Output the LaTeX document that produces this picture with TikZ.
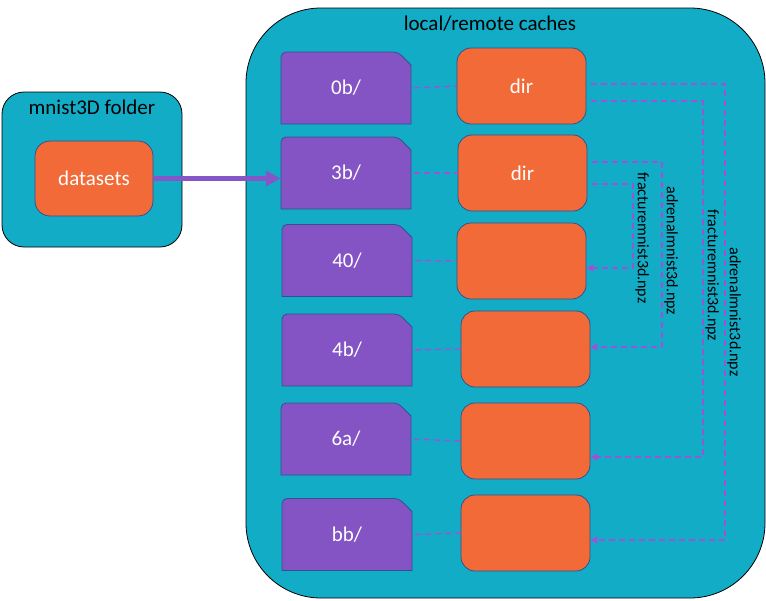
\documentclass[tikz,border=0pt]{standalone}
\usepackage{fontspec}
\setmainfont{Carlito}
\usepackage{xcolor}
\usetikzlibrary{calc, positioning, arrows.meta}
\definecolor{cachecyan}{RGB}{19,172,198}
\definecolor{dirorange}{RGB}{241,106,56}
\definecolor{foldpurple}{RGB}{132,84,196}
\definecolor{edgeblue}{RGB}{47,82,143}
\definecolor{linkpurple}{RGB}{160,82,214}
\newcommand\folder[4]{% name, centre x, centre y, label
  \coordinate (#1c) at (#2,#3); % centre of the folder
  \def\fldw{65}   % half width
  \def\fldh{36}   % half height
  \def\fldcut{13} % size of the cut corner
  \draw[foldshape] ($(#1c)+(-\fldw,\fldh)$) [rounded corners=5pt] -- ($(#1c)+(-\fldw,-\fldh)$) -- ($(#1c)+(\fldw-\fldcut,-\fldh)$) [sharp corners] -- ($(#1c)+(\fldw,-\fldh+\fldcut)$) -- ($(#1c)+(\fldw,\fldh)$) -- cycle;
  \node[foldlabel] (#1) at (#1c) {#4};
}

\begin{document}
\begin{tikzpicture}[x=1pt,y=-1pt,font=\fontsize{21}{25}\selectfont,
    cache/.style={draw=black,line width=0.8pt,fill=cachecyan},
    dirbox/.style={draw=edgeblue,line width=0.8pt,fill=dirorange,rounded corners=14pt,text=white,minimum width=129pt,minimum height=76pt},
    foldshape/.style={draw=edgeblue,line width=0.8pt,fill=foldpurple},
    foldlabel/.style={text=white,minimum width=130pt,minimum height=72pt,inner sep=0pt},
    link/.style={linkpurple,line width=1.4pt,dash pattern=on 6pt off 4pt,shorten <=3pt},
    npz/.style={link,shorten <=5pt,-{Triangle[length=7pt,width=7pt]}},
    npzlabel/.style={text=black,font=\fontsize{16}{19}\selectfont,rotate=-90,anchor=south,inner sep=1.5pt},
    feed/.style={draw={rgb,255:red,133;green,86;blue,200},line width=4.5pt,-{Triangle[length=15pt,width=15pt]}}]
  \useasboundingbox (0,0) rectangle (766,600);
  % containers
  \node[cache,rounded corners=75pt,minimum width=519pt,minimum height=590pt] (caches) at (505.5,303) {};
  \node[anchor=base] (cachetitle) at (490,30) {local/remote caches};
  \node[cache,rounded corners=22pt,minimum width=180pt,minimum height=155pt] (mnist) at (92,169.5) {};
  \node[anchor=base] (mnisttitle) at (92,114) {mnist3D folder};
  \node[dirbox,minimum width=118pt,minimum height=75pt,rounded corners=15pt] (datasets) at (94,178.5) {datasets};
  % one row per cache folder
  \foreach \nm/\fx/\fy/\bx/\by/\txt in {0b/346/88/521.5/86/dir, 3b/346/173/522.5/173/dir, 40/347/260.5/521.5/261/, 4b/347/350/525.5/349/, 6a/346/439/525.5/441/, bb/347/534.5/525.5/533/}{
    \folder{f\nm}{\fx}{\fy}{\nm/}
    \node[dirbox] (d\nm) at (\bx,\by) {\txt};
    \draw[link] (f\nm.east) -- (d\nm.west);
  }
  \draw[feed] (datasets.east) -- (datasets.east -| f3b.west);
  % npz links
  \coordinate (colA) at (725,0);
  \coordinate (colB) at (703,0);
  \coordinate (colC) at (662,0);
  \coordinate (colD) at (633,0);
  \coordinate (aOut) at ([yshift=2pt]d0b.east);
  \coordinate (aIn) at ([yshift=-7pt]dbb.east);
  \coordinate (bOut) at ([yshift=-15pt]d0b.east);
  \coordinate (bIn) at ([yshift=-16pt]d6a.east);
  \coordinate (cOut) at ([yshift=11pt]d3b.east);
  \coordinate (cIn) at ([yshift=2pt]d4b.east);
  \coordinate (dOut) at ([yshift=-11pt]d3b.east);
  \coordinate (dIn) at ([yshift=-7pt]d40.east);
  \draw[npz] (aOut) -- (aOut -| colA) -- node[npzlabel,pos=0.5] {adrenalmnist3d.npz} (aIn -| colA) -- (aIn);
  \draw[npz] (bOut) -- (bOut -| colB) -- node[npzlabel,pos=0.49] {fracturemnist3d.npz} (bIn -| colB) -- (bIn);
  \draw[npz] (cOut) -- (cOut -| colC) -- node[npzlabel,pos=0.48] {adrenalmnist3d.npz} (cIn -| colC) -- (cIn);
  \draw[npz] (dOut) -- (dOut -| colD) -- node[npzlabel,pos=0.64] {fracturemnist3d.npz} (dIn -| colD) -- (dIn);
\end{tikzpicture}
\end{document}
